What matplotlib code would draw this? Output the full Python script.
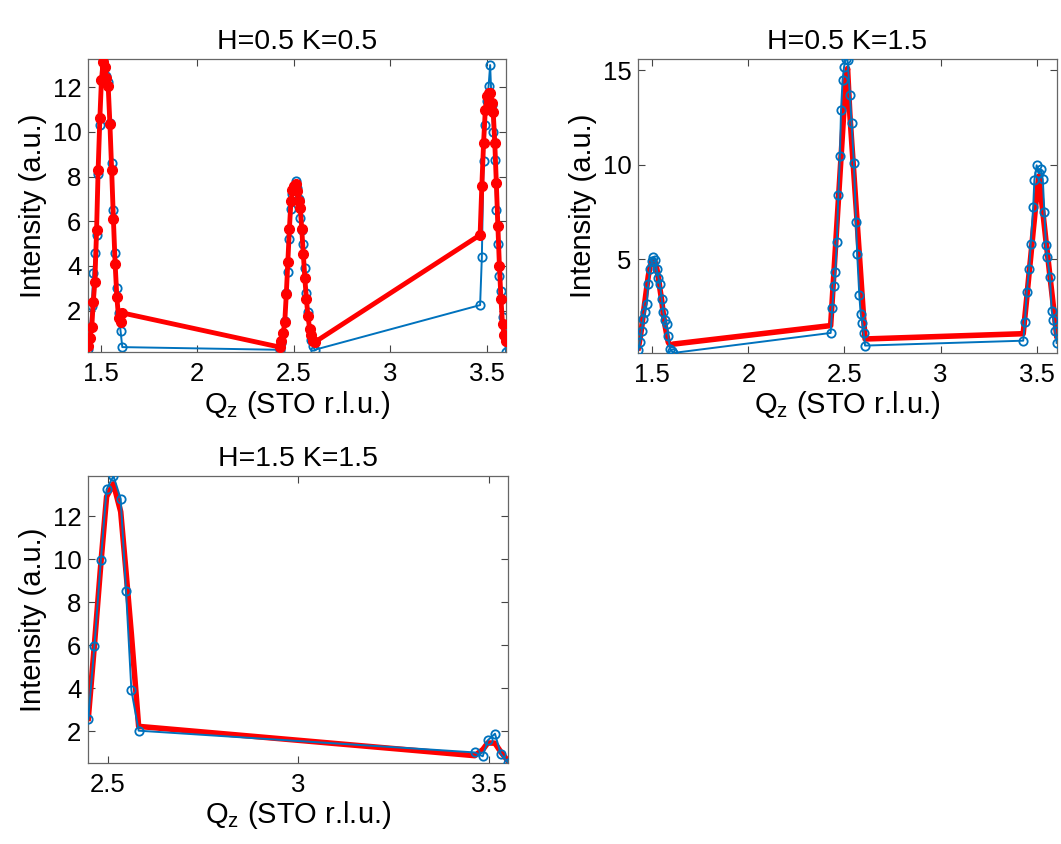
import matplotlib

matplotlib.use("Agg")

import matplotlib.pyplot as plt
from matplotlib.ticker import FormatStrFormatter

plt.rcParams["font.family"] = ["Liberation Sans", "DejaVu Sans"]
plt.rcParams["mathtext.fontset"] = "custom"
plt.rcParams["mathtext.rm"] = "Liberation Sans"

# H=0.5 K=0.5 : measured scan (blue) and fitted profile (red)
qz_a = [
    1.436, 1.445, 1.454, 1.462, 1.470, 1.479, 1.487, 1.496, 1.504, 1.513,
    1.522, 1.530, 1.539, 1.548, 1.557, 1.566, 1.575, 1.584, 1.593, 1.603, 1.612,
    2.427, 2.436, 2.445, 2.453, 2.461, 2.469, 2.477, 2.485, 2.493, 2.501,
    2.509, 2.517, 2.525, 2.533, 2.541, 2.549, 2.557, 2.565, 2.573, 2.582,
    2.591, 2.600, 2.608,
    3.464, 3.473, 3.482, 3.491, 3.500, 3.508, 3.516, 3.524, 3.532, 3.540,
    3.548, 3.556, 3.564, 3.572, 3.580, 3.589, 3.598,
]
meas_a = [
    0.30, 1.25, 2.20, 3.70, 4.60, 5.40, 8.10, 10.30, 12.30, 13.26,
    12.90, 12.50, 12.25, 10.40, 8.60, 6.50, 4.60, 3.00, 1.90, 1.10, 0.37,
    0.25, 0.55, 1.00, 1.55, 2.80, 3.74, 5.20, 6.53, 7.20, 7.60,
    7.80, 7.50, 7.00, 6.16, 5.60, 4.97, 3.90, 2.79, 1.93, 1.20,
    0.70, 0.40, 0.25,
    2.25, 4.38, 8.68, 10.30, 11.40, 12.06, 12.99, 11.20, 10.00, 8.76,
    6.50, 4.97, 3.56, 2.89, 1.70, 0.89, 0.15,
]
fit_a = [
    0.40, 0.80, 1.26, 2.40, 3.30, 5.60, 8.30, 10.60, 12.30, 13.14,
    12.90, 12.40, 12.06, 10.35, 8.30, 6.10, 4.10, 2.60, 1.66, 1.48, 1.90,
    0.37, 0.66, 1.00, 1.50, 2.75, 4.20, 5.67, 6.90, 7.40, 7.60,
    7.65, 7.35, 6.90, 6.60, 5.64, 4.53, 3.44, 2.52, 1.75, 1.18,
    0.89, 0.66, 0.59,
    5.39, 7.60, 9.50, 11.00, 11.60, 11.73, 11.73, 11.30, 10.90, 9.50,
    7.72, 5.79, 4.00, 2.52, 1.41, 0.90, 0.66,
]

# H=0.5 K=1.5
qz_b = [
    1.427, 1.436, 1.445, 1.453, 1.462, 1.471, 1.479, 1.488, 1.497, 1.505,
    1.514, 1.523, 1.532, 1.540, 1.549, 1.557, 1.566, 1.575, 1.583, 1.592, 1.600, 1.609,
    2.428, 2.436, 2.445, 2.452, 2.460, 2.468, 2.476, 2.482, 2.490, 2.498,
    2.507, 2.516, 2.528, 2.537, 2.549, 2.560, 2.566, 2.577, 2.584, 2.593,
    2.600, 2.607,
    3.430, 3.439, 3.448, 3.461, 3.469, 3.482, 3.488, 3.500, 3.511, 3.521,
    3.532, 3.540, 3.548, 3.555, 3.569, 3.578, 3.587, 3.596, 3.604,
]
meas_b = [
    0.19, 0.60, 1.21, 1.83, 2.20, 2.62, 3.68, 4.47, 4.90, 5.09,
    4.95, 4.47, 4.00, 3.68, 2.89, 2.18, 1.80, 1.57, 0.95, 0.25, 0.15, 0.03,
    1.09, 2.40, 3.60, 4.30, 5.93, 8.40, 10.46, 12.90, 14.50, 15.20,
    15.60, 15.55, 13.70, 12.20, 10.10, 6.97, 5.26, 3.11, 2.10, 1.60,
    1.10, 0.42,
    0.68, 1.69, 3.24, 4.47, 5.80, 7.76, 9.19, 9.97, 9.55, 9.75,
    9.23, 7.50, 5.74, 5.09, 4.03, 2.27, 1.79, 1.20, 0.56,
]
fit_b = [
    0.30, 0.80, 1.40, 2.10, 2.80, 3.50, 4.10, 4.60, 4.90, 4.95,
    4.85, 4.50, 4.00, 3.40, 2.80, 2.10, 1.50, 1.00, 0.60, 0.45, 0.45, 0.50,
    1.48, 2.80, 4.29, 5.45, 6.77, 8.09, 9.41, 10.40, 11.73, 13.05,
    14.54, 15.10, 12.65, 11.29, 9.49, 7.83, 6.93, 5.28, 4.23, 2.87,
    1.82, 0.77,
    1.05, 1.98, 2.90, 4.30, 5.10, 6.50, 7.10, 8.40, 9.40, 8.50,
    7.50, 6.76, 6.00, 5.40, 4.10, 3.30, 2.50, 1.70, 0.95,
]

# H=1.5 K=1.5
qz_c = [2.449, 2.465, 2.482, 2.497, 2.515, 2.534, 2.548, 2.562, 2.581,
        3.462, 3.483, 3.496, 3.515, 3.530, 3.550]
meas_c = [2.58, 5.95, 9.95, 13.24, 13.86, 12.80, 8.51, 3.91, 2.03,
          1.02, 0.84, 1.58, 1.89, 0.96, 0.53]
fit_c = [2.60, 6.00, 9.80, 12.90, 13.50, 12.20, 9.40, 6.50, 2.23,
         0.87, 1.15, 1.46, 1.45, 1.05, 0.60]

panel_titles = ["H=0.5 K=0.5", "H=0.5 K=1.5", "H=1.5 K=1.5"]

DATA_BLUE = "#0072BD"
FIT_RED = "#FF0000"


def style_axes(ax, qz, meas, fit, xticks, yticks):
    # tight limits around everything plotted, like MATLAB's "axis tight"
    ax.set_xlim(min(qz), max(qz))
    ax.set_ylim(min(min(meas), min(fit)), max(max(meas), max(fit)))
    ax.set_xticks(xticks)
    ax.set_yticks(yticks)
    ax.xaxis.set_major_formatter(FormatStrFormatter("%g"))
    ax.yaxis.set_major_formatter(FormatStrFormatter("%g"))
    ax.tick_params(direction="in", top=True, right=True, length=5, width=0.8,
                   color="#444444", labelsize=18.5)
    ax.tick_params(axis="x", pad=7)
    ax.tick_params(axis="y", pad=5)
    for spine in ax.spines.values():
        spine.set_color("#666666")
        spine.set_linewidth(0.9)
    ax.set_xlabel(r"Q$_\mathregular{z}$ (STO r.l.u.)", fontsize=21, labelpad=2)
    ax.set_ylabel("Intensity (a.u.)", fontsize=21, labelpad=4)


def plot_scan(ax, qz, meas, fit, title, fit_markers=False, data_on_top=True):
    data_z = 3 if data_on_top else 2
    ax.plot(qz, meas, color=DATA_BLUE, linewidth=1.4, marker="o",
            markersize=6, markerfacecolor="none", markeredgewidth=1.3,
            zorder=data_z)
    if fit_markers:
        ax.plot(qz, fit, color=FIT_RED, linewidth=3.5, marker="o",
                markersize=7, zorder=5 - data_z)
    else:
        ax.plot(qz, fit, color=FIT_RED, linewidth=4, zorder=5 - data_z)
    ax.set_title(title, fontsize=20.5, pad=7)


def main() -> None:
    fig = plt.figure(figsize=(10.61, 8.44), dpi=100)

    ax1 = fig.add_axes([0.0832, 0.5829, 0.3937, 0.3472])
    ax2 = fig.add_axes([0.6016, 0.5818, 0.3943, 0.3483])
    ax3 = fig.add_axes([0.0832, 0.0960, 0.3959, 0.3400])

    plot_scan(ax1, qz_a, meas_a, fit_a, panel_titles[0],
              fit_markers=True, data_on_top=False)
    style_axes(ax1, qz_a, meas_a, fit_a, [1.5, 2, 2.5, 3, 3.5], [2, 4, 6, 8, 10, 12])

    plot_scan(ax2, qz_b, meas_b, fit_b, panel_titles[1])
    style_axes(ax2, qz_b, meas_b, fit_b, [1.5, 2, 2.5, 3, 3.5], [5, 10, 15])

    plot_scan(ax3, qz_c, meas_c, fit_c, panel_titles[2])
    style_axes(ax3, qz_c, meas_c, fit_c, [2.5, 3, 3.5], [2, 4, 6, 8, 10, 12])

    fig.savefig("out.png", dpi=100)
    plt.close(fig)


if __name__ == "__main__":
    main()
